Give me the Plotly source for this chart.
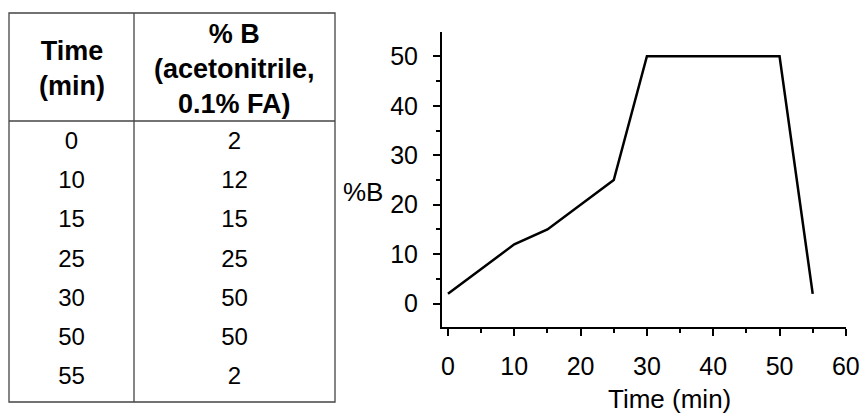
import plotly.graph_objects as go

# ---- data ----
time_min = [0, 10, 15, 25, 30, 50, 55]
pct_b = [2, 12, 15, 25, 50, 50, 2]
header_time = "Time<br>(min)"
header_b = "% B<br>(acetonitrile,<br>0.1% FA)"
x_ticks = [0, 10, 20, 30, 40, 50, 60]
y_ticks = [0, 10, 20, 30, 40, 50]

W, H = 863, 414
FONT = "Liberation Sans, Arial, sans-serif"
FS = 25
FS_T = 27

fig = go.Figure()

# gradient line
fig.add_trace(go.Scatter(
    x=time_min, y=pct_b, mode="lines",
    line=dict(color="black", width=2.5),
    showlegend=False, hoverinfo="skip", cliponaxis=False,
))

# table (pixel-like coordinates on hidden axes)
col_left, col_mid, col_right = 9, 134, 335
top, head_bot, bot = 13, 121, 402
row0, row_step = 143, 39.2
c1 = (col_left + col_mid) / 2
c2 = (col_mid + col_right) / 2
rows_y = [row0 + row_step * i for i in range(len(time_min))]

fig.add_trace(go.Scatter(
    x=[c1] * len(time_min), y=rows_y, mode="text",
    text=[str(v) for v in time_min],
    textfont=dict(family=FONT, size=24, color="black"),
    xaxis="x2", yaxis="y2", showlegend=False, hoverinfo="skip", cliponaxis=False,
))
fig.add_trace(go.Scatter(
    x=[c2] * len(pct_b), y=rows_y, mode="text",
    text=[str(v) for v in pct_b],
    textfont=dict(family=FONT, size=24, color="black"),
    xaxis="x2", yaxis="y2", showlegend=False, hoverinfo="skip", cliponaxis=False,
))

bc = "#444444"
bw = 1.3
shapes = [
    dict(type="rect", xref="x2", yref="y2", x0=col_left, x1=col_right, y0=top, y1=bot,
         line=dict(color=bc, width=bw)),
    dict(type="line", xref="x2", yref="y2", x0=col_mid, x1=col_mid, y0=top, y1=bot,
         line=dict(color=bc, width=bw)),
    dict(type="line", xref="x2", yref="y2", x0=col_left, x1=col_right, y0=head_bot, y1=head_bot,
         line=dict(color=bc, width=bw)),
]

hy = (top + head_bot) / 2
annotations = [
    dict(xref="x2", yref="y2", x=c1, y=hy + 2, text="<b>" + header_time.replace("<br>", "</b><br><b>") + "</b>",
         showarrow=False, font=dict(family=FONT, size=FS_T, color="black"), align="center",
         xanchor="center", yanchor="middle"),
    dict(xref="x2", yref="y2", x=c2, y=hy + 2, text="<b>" + header_b.replace("<br>", "</b><br><b>") + "</b>",
         showarrow=False, font=dict(family=FONT, size=FS_T, color="black"), align="center",
         xanchor="center", yanchor="middle"),
    dict(xref="paper", yref="paper", x=363 / W, y=1 - 192 / H, text="%B",
         xanchor="center", yanchor="middle",
         showarrow=False, font=dict(family=FONT, size=26, color="black")),
    dict(xref="paper", yref="paper", x=669 / W, y=1 - 399 / H, text="Time (min)",
         xanchor="center", yanchor="middle",
         showarrow=False, font=dict(family=FONT, size=26, color="black")),
]

fig.update_layout(
    template="none",
    width=W, height=H,
    margin=dict(l=0, r=0, t=0, b=0, pad=0),
    paper_bgcolor="white", plot_bgcolor="white",
    font=dict(family=FONT, size=FS, color="black"),
    shapes=shapes, annotations=annotations,
    xaxis=dict(
        domain=[442 / W, 846 / W], range=[-0.9, 60.02], automargin=False,
        tickvals=x_ticks, ticks="outside", ticklen=7, tickwidth=2, tickcolor="black",
        showline=True, linewidth=2, linecolor="black", showgrid=False, zeroline=False,
        tickfont=dict(family=FONT, size=FS, color="black"), ticklabelstandoff=9,
        minor=dict(dtick=5, ticks="outside", ticklen=4, tickwidth=2, tickcolor="black", showgrid=False),
    ),
    yaxis=dict(
        domain=[(H - 327) / H, (H - 32) / H], range=[-4.7, 54.9], automargin=False,
        tickvals=y_ticks, ticks="outside", ticklen=7, tickwidth=2, tickcolor="black",
        showline=True, linewidth=2, linecolor="black", showgrid=False, zeroline=False,
        tickfont=dict(family=FONT, size=FS, color="black"), ticklabelstandoff=10,
        minor=dict(dtick=5, ticks="outside", ticklen=4, tickwidth=2, tickcolor="black", showgrid=False),
    ),
    xaxis2=dict(domain=[4 / W, 340 / W], range=[4, 340], visible=False, fixedrange=True, automargin=False),
    yaxis2=dict(domain=[(H - 408) / H, (H - 8) / H], range=[408, 8], visible=False, fixedrange=True, automargin=False),
)

fig.write_html("out.html")
